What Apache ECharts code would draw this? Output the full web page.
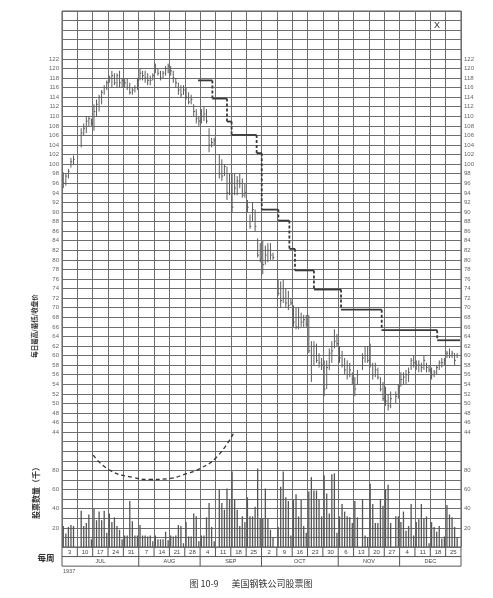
<!DOCTYPE html>
<html><head><meta charset="utf-8">
<script src="https://cdn.jsdelivr.net/npm/echarts@6/dist/echarts.min.js"></script>
<style>html,body{margin:0;padding:0;background:#fff}#c{width:493px;height:598px}</style>
</head><body><div id="c"></div>
<script>
// ---- data (six trading-day slots per week, null = no trading) ----
const weekLabels = [3,10,17,24,31,7,14,21,28,4,11,18,25,2,9,16,23,30,6,13,20,27,4,11,18,25];
const monthLabels = ['JUL','AUG','SEP','OCT','NOV','DEC'];
const monthWeeks = [5,4,4,5,4,4];
const priceLabels = [44,46,48,50,52,54,56,58,60,62,64,66,68,70,72,74,76,78,80,82,84,86,88,90,92,94,96,98,100,102,104,106,108,110,112,114,116,118,120,122];
const volumeLabels = [20,40,60,80];

const highs = [
 98.3,98,99,101.3,101.8,null,  null,107.5,108.5,110,110,109.5,  112.5,113.5,114.5,115.5,116.5,117.5,
 118.5,119.5,119,119,119.5,118,  118,118,117,116,116.5,118,  120,119.5,119.5,119,118.5,119,
 121,120,119.5,119.5,120.5,121,  120.5,119.5,118,117,116.5,116.5,  116,115,114.5,112.5,111.5,110,
 111.5,112,111.5,107.5,105.5,105.5,  null,102,101,100,99.5,98,  98,98,97.5,98,97,96,
 92.5,89.5,92,90.5,84.5,83.5,  84,83,83.5,83.5,81.5,null,  76,75.5,76,74,73.5,72,
 70.5,70,70,69,68.5,68.5,  68.5,63,63,62.5,60.5,59.5,  59,59,61.5,63,65.5,64.5,
 62,61,59.5,59,58.5,56.5,  55.5,57,null,60.5,62,62,  62.5,58.5,58.5,57.5,55.5,54.5,
 53.5,52,52.5,null,52.5,54,  56.5,56.5,57,57.5,59.5,60,  59,59,58.5,60,58.5,58,
 57.5,57,58,59,59.5,59.5,  61,61.5,61,60.5,60.5,null];
const lows = [
 95,95.5,97,99.3,99.8,null,  null,103.5,106,106.5,108,108,  107,110,111,112.5,114.5,115.5,
 117,116,116.5,116,116,116,  116,115.5,114.5,114.5,115,115.5,  117.5,117.5,117,116.5,116.5,117.5,
 119,118.5,117.5,118,118.5,119,  118.5,117,116,114.5,114,114.5,  113.5,112.5,112.5,110,108.5,108,
 108.5,109,108.5,102.5,103.5,104,  null,97,96.5,97.5,92.5,93.5,  90,93.5,93.5,95,93,93,
 90,86.5,88,86,80.5,79.5,  77,79,79.5,80,80,null,  72.5,70,71,70,69.5,70.5,
 66,65.5,65.5,66,66,66,  60.5,54.5,58,58.5,57.5,57,  51.5,53,57,58.5,61.5,62,
 58.5,57.5,56,55,55.5,54,  51.5,54,null,57,58.5,58.5,  57.5,55,55.5,55,52.5,50.5,
 49.5,48.5,49,null,50,51,  53.5,54,54,54.5,57,57.5,  57,56.5,56.5,57,56.5,56.5,
 55,55.5,56,57,57.5,58,  59.5,59.5,59.5,58,59.5,null];
const closes = [
 96,97.5,98.5,100.5,101,null,  null,106.5,107.5,109,109.5,108.5,  111,112.5,114,115,116,117,
 118,118.5,117,118.5,117,117.5,  117,116,115,115.5,116,117.5,  119,118.5,118,117.5,117.5,118.5,
 120,119,118,119,120,120.5,  119.5,118,117,115.5,114.5,115.5,  114,113,113.5,111,109.5,109,
 110,110.5,109,104,104.5,105,  null,98,97.5,99.5,94,96,  91,95,96.5,96,93.5,94,
 91,87,90.5,87,81,80,  79,81,82,81,80.5,null,  73,71.5,72,71,70.5,71,
 67,66,68,67,67.5,66.5,  61,60,62,59,58.5,58,  53,57.5,60.5,61,63,62.5,
 59.5,58,57,56,57,55,  53,56,null,59.5,60,59,  58,56,57,55.5,53,51,
 50.5,49.5,51,null,51.5,53.5,  55,55.5,56,56.5,59,58.5,  58,58,57.5,59,57.5,57,
 56,56.5,57.5,58.5,58.5,59,  60.5,60,60.5,59,60,null];
const volumes = [
 22,14,21,23,22,null,  null,38,22,25,34,8,  40,28,37,28,38,15,
 35,26,31,22,18,8,  12,12,48,27,12,12,  23,12,12,11,12,6,
 12,8,8,8,16,7,  12,11,12,23,22,4,  26,11,11,35,32,6,
 12,12,31,46,21,6,  null,60,46,39,61,50,  79,50,39,22,32,26,
 52,32,32,42,82,30,  30,61,30,18,10,null,  21,63,79,52,48,12,
 49,55,32,49,22,15,  58,73,59,59,50,32,  75,56,35,76,77,15,
 32,45,37,32,31,25,  48,31,null,50,12,10,  66,45,25,25,50,43,
 60,65,25,null,32,32,  26,37,17,22,45,12,  26,29,45,30,32,4,
 26,21,16,22,9,11,  44,34,31,21,10,null];

// weekly stop line: breakpoints (in trading-day units) and levels
const stopX = [53.2,58.8,64.5,66.3,76.1,78.1,84.6,88.9,91.1,98.5,109.1,125,146.7,155.6];
const stopLevels = [117.5,113.7,108.9,106.1,102.3,90.5,88.2,82.3,77.8,73.8,69.6,65.3,63.2];

// hand-drawn volume arc
const arcX = [12.2,18.8,27.9,34.4,40.9,48.8,54,60.5,67];
const arcVol = [96,80,72.6,70.5,71.2,76.7,82,94,118.4];

// ---- build ----
const priceData = [], volData = [];
highs.forEach((h,i)=>{ if(h!=null) priceData.push([i+0.5,h,lows[i],closes[i]]); });
volumes.forEach((v,i)=>{ if(v!=null) volData.push([i+0.5,v]); });
const stopData = stopLevels.map((lv,i)=>[stopX[i], stopX[i+1], lv, i+1<stopLevels.length?stopLevels[i+1]:lv]);
const arcData = arcX.map((x,i)=>[x,arcVol[i]]);

const labFont = 'Liberation Sans';
const gridColor = '#6e6e6e';
function yAx(min,max,interval,pos,labels,split){
  return {type:'value',min:min,max:max,interval:interval,position:pos,
    axisLine:{show:false},axisTick:{show:false},
    splitLine:{show:split,lineStyle:{color:gridColor,width:1}},
    axisLabel:{fontSize:6,color:'#666',fontFamily:labFont,margin:3,
      formatter:v=>labels.indexOf(v)>=0?String(v):''}};
}

const chart = echarts.init(document.getElementById('c'),null,{renderer:'canvas'});
chart.setOption({
  animation:false,
  backgroundColor:'#fff',
  grid:{left:62,right:32,top:11,bottom:51,show:true,borderColor:'#555',borderWidth:1},
  xAxis:{type:'value',min:0,max:156,interval:6,axisLine:{show:false},axisTick:{show:false},
    axisLabel:{show:false},splitLine:{show:true,lineStyle:{color:gridColor,width:1}}},
  yAxis:[
    yAx(20,132,2,'left',priceLabels,true),
    yAx(20,132,2,'right',priceLabels,false),
    yAx(0,560,10,'left',volumeLabels,false),
    yAx(0,560,10,'right',volumeLabels,false)
  ],
  series:[
    {type:'bar',xAxisIndex:0,yAxisIndex:2,data:volData,barWidth:1.3,itemStyle:{color:'#555'},silent:true},
    {type:'custom',xAxisIndex:0,yAxisIndex:0,data:priceData,encode:{x:0,y:[1,2]},silent:true,
      renderItem:function(params,api){
        const x=api.value(0);
        const hi=api.coord([x,api.value(1)]), lo=api.coord([x,api.value(2)]), cl=api.coord([x,api.value(3)]);
        return {type:'group',children:[
          {type:'line',shape:{x1:hi[0],y1:hi[1],x2:lo[0],y2:lo[1]},style:{stroke:'#5a5a5a',lineWidth:1}},
          {type:'line',shape:{x1:cl[0],y1:cl[1],x2:cl[0]+1.3,y2:cl[1]},style:{stroke:'#5a5a5a',lineWidth:1}}
        ]};
      }},
    {type:'custom',xAxisIndex:0,yAxisIndex:0,data:stopData,encode:{x:[0,1],y:[2,3]},silent:true,
      renderItem:function(params,api){
        const a=api.coord([api.value(0),api.value(2)]), b=api.coord([api.value(1),api.value(2)]), c=api.coord([api.value(1),api.value(3)]);
        const ch=[{type:'line',shape:{x1:a[0],y1:a[1],x2:b[0],y2:b[1]},style:{stroke:'#3a3a3a',lineWidth:1.8}}];
        if(c[1]!==b[1]) ch.push({type:'line',shape:{x1:b[0],y1:b[1],x2:c[0],y2:c[1]},style:{stroke:'#3a3a3a',lineWidth:1.8,lineDash:[3,2]}});
        return {type:'group',children:ch};
      }},
    {type:'line',xAxisIndex:0,yAxisIndex:2,data:arcData,smooth:0.5,symbol:'none',silent:true,
      lineStyle:{color:'#333',width:1.3,type:[4,3]}},
    {type:'custom',xAxisIndex:0,yAxisIndex:2,data:[[0,0]],clip:false,silent:true,
      renderItem:function(params,api){
        const ch=[];
        const ln=(x1,y1,x2,y2)=>ch.push({type:'line',shape:{x1,y1,x2,y2},style:{stroke:'#555',lineWidth:1}});
        const tx=(t,x,y,fs)=>ch.push({type:'text',style:{text:String(t),x:x,y:y,align:'center',verticalAlign:'middle',
          fontSize:fs,fontFamily:labFont,fill:'#444'}});
        const yTop=api.coord([0,0])[1], yMid=api.coord([0,-10])[1], yBot=api.coord([0,-20])[1];
        const xL=api.coord([0,0])[0], xR=api.coord([156,0])[0];
        ln(xL,yTop,xL,yBot); ln(xR,yTop,xR,yBot); ln(xL,yMid,xR,yMid); ln(xL,yBot,xR,yBot);
        weekLabels.forEach((w,i)=>{
          const a=api.coord([i*6,0])[0], b=api.coord([(i+1)*6,0])[0];
          if(i<weekLabels.length-1) ln(b,yTop,b,yMid);
          tx(w,(a+b)/2,(yTop+yMid)/2+0.5,6);
        });
        let s=0;
        monthLabels.forEach((m,k)=>{
          const e=s+monthWeeks[k];
          const a=api.coord([s*6,0])[0], b=api.coord([e*6,0])[0];
          if(k<monthLabels.length-1) ln(b,yMid,b,yBot);
          tx(m,(a+b)/2,(yMid+yBot)/2+0.5,5.5);
          s=e;
        });
        return {type:'group',children:ch};
      }}
  ],
  graphic:[
    {type:'text',x:35,y:326,rotation:Math.PI/2,style:{text:'每日最高/最低/收盘价',fontSize:6.5,fontWeight:'bold',
      fontFamily:'Noto Sans CJK SC',fill:'#333',align:'center',verticalAlign:'middle'}},
    {type:'text',x:36,y:491,rotation:Math.PI/2,style:{text:'股票数量（千）',fontSize:8,fontWeight:'bold',
      fontFamily:'Noto Sans CJK SC',fill:'#333',align:'center',verticalAlign:'middle'}},
    {type:'text',x:46,y:558,style:{text:'每周',fontSize:8.5,fontWeight:'bold',fontFamily:'Noto Sans CJK SC',
      fill:'#333',align:'center',verticalAlign:'middle'}},
    {type:'text',x:63,y:571,style:{text:'1937',fontSize:5.5,fontFamily:labFont,fill:'#555',align:'left',verticalAlign:'middle'}},
    {type:'text',x:437,y:26,style:{text:'X',fontSize:9,fontFamily:labFont,fill:'#333',align:'center',verticalAlign:'middle'}},
    {type:'text',x:251,y:584,style:{text:'图 10-9　  美国钢铁公司股票图',fontSize:9,fontFamily:'Noto Sans CJK SC',
      fill:'#333',align:'center',verticalAlign:'middle'}}
  ]
});
</script>
</body></html>
